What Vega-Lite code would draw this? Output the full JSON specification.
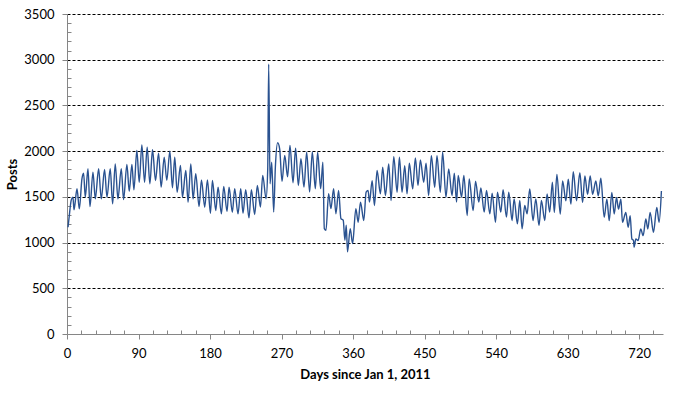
{
"$schema": "https://vega.github.io/schema/vega-lite/v6.json",
"width": 596, "height": 320,
"autosize": "none",
"padding": {"left": 67, "top": 14, "right": 36, "bottom": 60},
"background": "white",
"config": {"view": {"stroke": null}, "font": "Lato"},
"data": {"values": [
{"d":1.3,"p":1168},{"d":2.9,"p":1296},{"d":5.4,"p":1467},{"d":7.5,"p":1496},{"d":8.8,"p":1358},{"d":12.6,"p":1588},{"d":15.5,"p":1369},{"d":18.8,"p":1697},{"d":20.9,"p":1759},{"d":23,"p":1496},{"d":26.4,"p":1807},{"d":28.9,"p":1394},{"d":32.7,"p":1770},{"d":35.6,"p":1478},{"d":39.8,"p":1807},{"d":43.1,"p":1478},{"d":47.3,"p":1799},{"d":50.3,"p":1496},{"d":54.4,"p":1807},{"d":57.4,"p":1423},{"d":60.7,"p":1861},{"d":64.1,"p":1478},{"d":68.3,"p":1807},{"d":71.2,"p":1471},{"d":75.4,"p":1854},{"d":78.3,"p":1562},{"d":81.7,"p":1854},{"d":84.2,"p":1577},{"d":87.9,"p":2007},{"d":90.9,"p":1660},{"d":94.2,"p":2069},{"d":97.6,"p":1660},{"d":100.9,"p":2044},{"d":104.3,"p":1642},{"d":107.6,"p":2015},{"d":111.4,"p":1679},{"d":115.2,"p":1978},{"d":118.5,"p":1606},
{"d":122.3,"p":1934},{"d":125.6,"p":1680},{"d":129.4,"p":2000},{"d":132.7,"p":1599},{"d":135.6,"p":1934},{"d":138.6,"p":1551},{"d":142.8,"p":1843},{"d":145.3,"p":1496},{"d":149.5,"p":1788},{"d":152.4,"p":1442},{"d":155.8,"p":1861},{"d":158.7,"p":1478},{"d":162,"p":1752},{"d":166.2,"p":1394},{"d":169.2,"p":1686},{"d":173.3,"p":1387},{"d":176.7,"p":1686},{"d":180.5,"p":1321},{"d":183,"p":1679},{"d":187.2,"p":1350},{"d":190.1,"p":1606},{"d":194.3,"p":1314},{"d":197.2,"p":1613},{"d":201.4,"p":1340},{"d":203.9,"p":1606},{"d":208.1,"p":1332},{"d":211,"p":1588},{"d":215.2,"p":1314},{"d":218.6,"p":1588},{"d":221.5,"p":1321},{"d":224.9,"p":1577},{"d":229,"p":1270},{"d":232,"p":1577},{"d":236.2,"p":1307},{"d":239.5,"p":1624},
{"d":243.4,"p":1389},{"d":246.3,"p":1735},{"d":250.5,"p":1480},{"d":252.6,"p":1807},{"d":253.8,"p":2953},{"d":255.5,"p":1644},{"d":257.6,"p":1880},{"d":260.1,"p":1335},{"d":262.2,"p":1825},{"d":265.1,"p":2091},{"d":267.6,"p":2025},{"d":270.6,"p":1669},{"d":274,"p":1953},{"d":277.6,"p":1720},{"d":280.6,"p":2062},{"d":284.4,"p":1655},{"d":287.7,"p":2033},{"d":291.1,"p":1625},{"d":294.4,"p":1916},{"d":298.2,"p":1607},{"d":301.6,"p":1989},{"d":305.3,"p":1553},{"d":308.7,"p":1990},{"d":312.5,"p":1590},{"d":315.4,"p":1989},{"d":319.2,"p":1590},{"d":322,"p":1880},{"d":323.8,"p":1153},{"d":325.9,"p":1135},{"d":329.2,"p":1535},{"d":332.1,"p":1371},{"d":335.5,"p":1589},{"d":338.4,"p":1316},{"d":341.8,"p":1571},{"d":344.7,"p":1262},{"d":347.6,"p":1244},{"d":349.7,"p":1025},{"d":351.4,"p":1189},{"d":353,"p":898},{"d":356.4,"p":1153},{"d":359.4,"p":989},{"d":363.5,"p":1371},
{"d":366.4,"p":1223},{"d":369.3,"p":1442},{"d":373.5,"p":1242},{"d":376.4,"p":1551},{"d":378.9,"p":1570},{"d":380.6,"p":1442},{"d":384,"p":1678},{"d":386.9,"p":1405},{"d":390.2,"p":1788},{"d":394.4,"p":1533},{"d":397.3,"p":1824},{"d":400.7,"p":1515},{"d":404.9,"p":1860},{"d":407.8,"p":1460},{"d":411.2,"p":1940},{"d":415.4,"p":1551},{"d":418.3,"p":1933},{"d":421.6,"p":1551},{"d":425,"p":1842},{"d":427.9,"p":1533},{"d":430.8,"p":1868},{"d":435,"p":1587},{"d":438.4,"p":1926},{"d":441.7,"p":1624},{"d":444.7,"p":1904},{"d":448.9,"p":1660},{"d":451.8,"p":1868},{"d":455.1,"p":1515},{"d":458.5,"p":1951},{"d":462.7,"p":1606},{"d":465.6,"p":1951},{"d":469.8,"p":1551},{"d":472.7,"p":1988},{"d":476.9,"p":1496},{"d":480.3,"p":1806},{"d":484.5,"p":1515},{"d":487.4,"p":1758},
{"d":490.2,"p":1442},{"d":492.3,"p":1733},{"d":496.5,"p":1496},{"d":499.4,"p":1733},{"d":503.6,"p":1296},{"d":506.1,"p":1697},{"d":511.1,"p":1350},{"d":514.1,"p":1671},{"d":518.2,"p":1442},{"d":520.8,"p":1598},{"d":525,"p":1333},{"d":527.9,"p":1569},{"d":532.1,"p":1314},{"d":535,"p":1540},{"d":539.2,"p":1223},{"d":541.7,"p":1551},{"d":545.9,"p":1333},{"d":548.8,"p":1577},{"d":553,"p":1278},{"d":555.9,"p":1551},{"d":560.1,"p":1241},{"d":562.6,"p":1478},{"d":566.8,"p":1205},{"d":569.8,"p":1460},{"d":572.7,"p":1150},{"d":576,"p":1405},{"d":579,"p":1314},{"d":582.3,"p":1587},{"d":586.5,"p":1241},{"d":589.9,"p":1478},{"d":594,"p":1187},{"d":597,"p":1460},{"d":601.2,"p":1241},{"d":604.1,"p":1533},{"d":607.4,"p":1333},{"d":610.8,"p":1660},
{"d":613.2,"p":1330},{"d":616.5,"p":1746},{"d":620.7,"p":1312},{"d":623.7,"p":1674},{"d":627.8,"p":1457},{"d":630.8,"p":1692},{"d":634.1,"p":1420},{"d":637.1,"p":1775},{"d":641.2,"p":1457},{"d":645.4,"p":1764},{"d":648.8,"p":1438},{"d":651.7,"p":1728},{"d":655.1,"p":1529},{"d":658.4,"p":1728},{"d":661.4,"p":1529},{"d":665.5,"p":1674},{"d":668.5,"p":1511},{"d":671.8,"p":1703},{"d":676,"p":1276},{"d":679.4,"p":1475},{"d":682.3,"p":1240},{"d":685.6,"p":1547},{"d":688.6,"p":1312},{"d":691.5,"p":1493},{"d":694,"p":1366},{"d":697,"p":1475},{"d":699,"p":1221},{"d":703.2,"p":1330},{"d":706.2,"p":1167},{"d":708.7,"p":1294},{"d":710.8,"p":1040},{"d":712.9,"p":1022},{"d":713.7,"p":950},{"d":715.8,"p":1040},{"d":718.7,"p":1022},{"d":722,"p":1149},{"d":725,"p":1076},{"d":728.4,"p":1257},{"d":730.9,"p":1149},{"d":733.8,"p":1330},{"d":738,"p":1113},{"d":742.2,"p":1384},{"d":745.1,"p":1221},{"d":748,"p":1565}
]},
"mark": {"type": "line", "color": "#2a5290", "strokeWidth": 1.4, "interpolate": "monotone"},
"encoding": {
 "x": {"field": "d", "type": "quantitative",
   "scale": {"domain": [0, 750], "nice": false, "zero": false},
   "axis": {"title": "Days since Jan 1, 2011",
     "values": [0,18,36,54,72,90,108,126,144,162,180,198,216,234,252,270,288,306,324,342,360,378,396,414,432,450,468,486,504,522,540,558,576,594,612,630,648,666,684,702,720,738],
     "labelExpr": "datum.value % 90 === 0 ? datum.label : ''",
     "format": "d", "grid": false, "labelOverlap": false, "labelFlush": false,
     "domainColor": "#868686", "tickColor": "#868686",
     "tickSize": {"condition": {"test": "datum.value % 90 === 0", "value": 5}, "value": -4},
     "labelPadding": 8, "labelFont": "Lato", "labelFontSize": 13, "labelColor": "#000",
     "titleFont": "Lato", "titleFontSize": 13, "titleFontWeight": "bold", "titleColor": "#000", "titlePadding": 8}},
 "y": {"field": "p", "type": "quantitative",
   "scale": {"domain": [0, 3500], "nice": false},
   "axis": {"title": "Posts",
     "values": [0,100,200,300,400,500,600,700,800,900,1000,1100,1200,1300,1400,1500,1600,1700,1800,1900,2000,2100,2200,2300,2400,2500,2600,2700,2800,2900,3000,3100,3200,3300,3400,3500],
     "labelExpr": "datum.value % 500 === 0 ? datum.label : ''",
     "format": "d", "labelOverlap": false, "labelFlush": false,
     "grid": true, "gridColor": "#000", "gridDash": [3, 2], "gridWidth": 1,
     "gridOpacity": {"condition": {"test": "datum.value % 500 === 0 && datum.value > 0", "value": 1}, "value": 0},
     "domainColor": "#868686", "tickColor": "#868686",
     "tickSize": {"condition": {"test": "datum.value % 500 === 0", "value": 5}, "value": -4},
     "labelPadding": 8, "labelFont": "Lato", "labelFontSize": 13, "labelColor": "#000",
     "titleFont": "Lato", "titleFontSize": 13, "titleFontWeight": "bold", "titleColor": "#000", "titlePadding": 4}}
}
}
